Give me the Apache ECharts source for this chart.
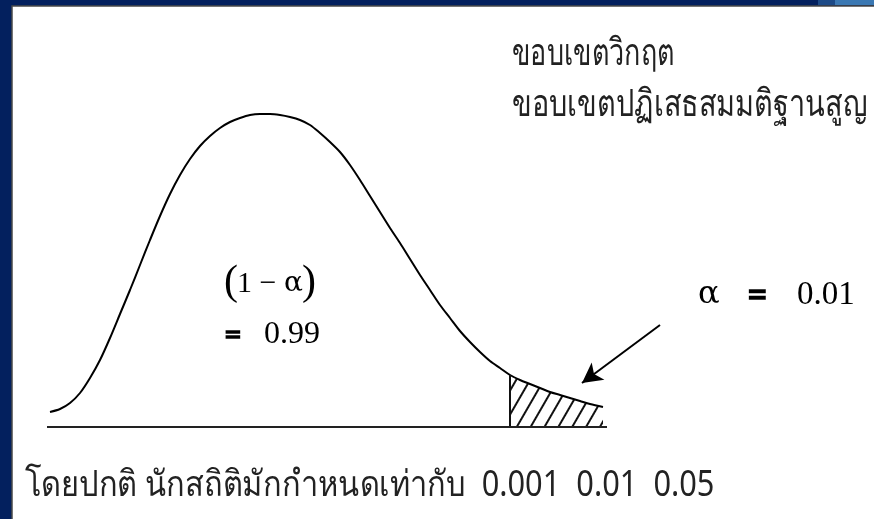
<!DOCTYPE html>
<html lang="th">
<head>
    <meta charset="UTF-8">
    <script src="https://cdn.jsdelivr.net/npm/echarts@6/dist/echarts.min.js"></script>
    <title>ขอบเขตวิกฤต</title>
    <style>html, body { margin: 0; padding: 0; background: #03205e; }</style>
</head>
<body>
<div id="main" style="width: 874px;height: 519px"></div>
<script type="text/javascript">
    // curve of the distribution (x along the base line, y = height above it)
    var curveX = [0.3, 1.3, 2.3, 3.3, 4.3, 5.3, 6.3, 7.3, 8.3, 9.3, 10.3, 11.3, 12.3, 13.3, 14.3, 15.3, 16.3, 17.3, 18.3, 19.3,
        20.3, 21.3, 22.3, 23.3, 24.3, 25.3, 26.3, 27.3, 28.3, 29.3, 30.3, 31.3, 32.3, 33.3, 34.3, 35.3, 36.3, 37.3, 38.3, 39.3,
        40.3, 41.3, 42.3, 43.3, 44.3, 45.3, 46.3, 47.3, 48.3, 49.3, 50.3, 51.3, 52.3, 53.3, 54.3, 55.6];
    var curveY = [0.15, 0.18, 0.24, 0.34, 0.49, 0.67, 0.89, 1.13, 1.37, 1.62, 1.87, 2.11, 2.33, 2.52, 2.68, 2.81, 2.91, 2.99, 3.05, 3.09,
        3.12, 3.13, 3.13, 3.12, 3.10, 3.07, 3.02, 2.94, 2.85, 2.75, 2.62, 2.47, 2.31, 2.15, 1.99, 1.84, 1.68, 1.52, 1.37, 1.22,
        1.09, 0.96, 0.85, 0.75, 0.66, 0.59, 0.52, 0.47, 0.43, 0.39, 0.35, 0.32, 0.29, 0.26, 0.23, 0.20];

    // critical value and the base line
    var criticalX = 46.3;
    var baseX = [0, 56];

    // arrow pointing at the tail
    var arrowFrom = [61.3, 1.02];
    var arrowTo = [53.5, 0.44];

    // texts
    var regionLabels = ['ขอบเขตวิกฤต', 'ขอบเขตปฏิเสธสมมติฐานสูญ'];
    var areaLabel = ['(', '1 − {a|α}', ')', '=', '0.99'];
    var alphaLabel = ['α', '=', '0.01'];
    var noteText = 'โดยปกติ นักสถิติมักกำหนดเท่ากับ  0.001  0.01  0.05';

    var curveData = curveX.map(function (x, i) { return [x, curveY[i]]; });
    var tailData = curveData.filter(function (p) { return p[0] >= criticalX; });
    var criticalY = tailData[0][1];

    var thaiFont = '"Noto Sans", "DejaVu Sans", sans-serif';
    var serifFont = '"Liberation Serif", "DejaVu Serif", serif';
    var greekFont = '"DejaVu Serif", serif';

    function txt(x, y, text, size, opts) {
        opts = opts || {};
        var style = {
            text: text, fill: opts.fill || '#000', verticalAlign: 'middle',
            font: (opts.bold ? 'bold ' : '') + size + 'px ' + (opts.family || serifFont)
        };
        if (opts.heavy) {
            style.stroke = '#000';
            style.lineWidth = opts.heavy;
        }
        if (opts.rich) {
            style.rich = opts.rich;
        }
        return {type: 'text', x: x, y: y, scaleX: opts.scaleX || 1, style: style};
    }

    var myChart = echarts.init(document.getElementById("main"));

    myChart.setOption({
        backgroundColor: '#03205e',
        animation: false,
        grid: {left: 47, top: 77, width: 800, height: 350},
        xAxis: {type: 'value', min: 0, max: 80, show: false},
        yAxis: {type: 'value', min: 0, max: 3.5, show: false},
        graphic: [
            // white slide panel
            {type: 'rect', z: -10, shape: {x: 12, y: 6, width: 870, height: 520},
                style: {fill: '#ffffff', stroke: '#4a4a4a', lineWidth: 1.5}},
            {type: 'rect', z: -9, shape: {x: 818, y: 0, width: 17, height: 5}, style: {fill: '#1d4a87'}},
            {type: 'rect', z: -9, shape: {x: 835, y: 0, width: 39, height: 5}, style: {fill: '#3b78b3'}},
            txt(512, 54, regionLabels[0], 38, {family: thaiFont, fill: '#222', scaleX: 0.71}),
            txt(512, 105, regionLabels[1], 38, {family: thaiFont, fill: '#222', scaleX: 0.76}),
            txt(224, 283, areaLabel[0], 42),
            txt(237, 284, areaLabel[1], 30, {rich: {a: {fontFamily: greekFont, fontSize: 28}}}),
            txt(302, 283, areaLabel[2], 42),
            txt(225, 337, areaLabel[3], 28, {bold: true, heavy: 1.6}),
            txt(264, 335, areaLabel[4], 32),
            txt(698, 295, alphaLabel[0], 32, {family: greekFont}),
            txt(748, 297, alphaLabel[1], 33, {bold: true, heavy: 1.6}),
            txt(797, 295, alphaLabel[2], 33),
            txt(25, 486, noteText, 36, {family: thaiFont, fill: '#222', scaleX: 0.855})
        ],
        series: [
            {
                // hatched tail
                type: 'line', data: tailData, smooth: 0.3, symbol: 'none', silent: true,
                lineStyle: {width: 0},
                itemStyle: {
                    color: '#ffffff',
                    decal: {symbol: 'rect', symbolSize: 1, color: '#111', backgroundColor: '#ffffff',
                        dashArrayX: [1, 0], dashArrayY: [1.6, 9.6], rotation: -Math.PI / 3}
                },
                areaStyle: {opacity: 1}
            },
            {
                type: 'line', data: curveData, smooth: 0.3, symbol: 'none', silent: true,
                lineStyle: {color: '#000', width: 2}
            },
            {
                type: 'line', data: [[criticalX, 0], [criticalX, criticalY]], symbol: 'none', silent: true,
                lineStyle: {color: '#111', width: 2}
            },
            {
                type: 'line', data: baseX.map(function (x) { return [x, 0]; }), symbol: 'none', silent: true,
                lineStyle: {color: '#222', width: 2},
                markLine: {
                    silent: true, symbol: ['none', 'arrow'], symbolSize: [16, 20],
                    lineStyle: {color: '#000', width: 2, type: 'solid'},
                    label: {show: false},
                    data: [[{coord: arrowFrom}, {coord: arrowTo}]]
                }
            }
        ]
    });
</script>
</body>
</html>
